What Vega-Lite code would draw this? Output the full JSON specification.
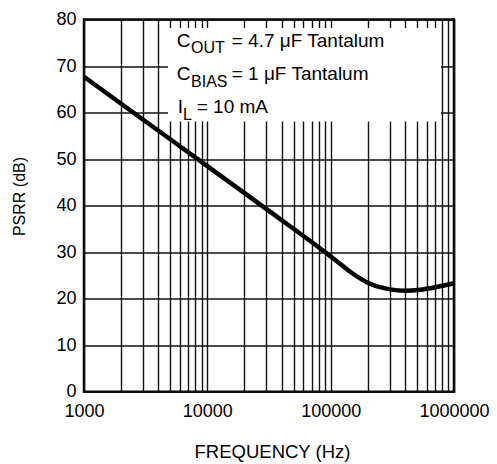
{
  "$schema": "https://vega.github.io/schema/vega-lite/v6.json",
  "width": 370,
  "height": 372.2,
  "autosize": "none",
  "padding": {"left": 84, "top": 19.5, "right": 43, "bottom": 72.3},
  "background": "white",
  "config": {
    "view": {"stroke": "black", "strokeWidth": 2.5},
    "font": "Liberation Sans",
    "axis": {
      "domain": false,
      "ticks": false,
      "gridColor": "#111111",
      "gridOpacity": 1,
      "gridWidth": 1.4,
      "labelColor": "black",
      "titleColor": "black",
      "labelFont": "Liberation Sans",
      "titleFont": "Liberation Sans",
      "titleFontWeight": "normal"
    }
  },
  "datasets": {
    "curve": [
      {"f": 1000, "psrr": 67.7},
      {"f": 3000, "psrr": 58.5},
      {"f": 10000, "psrr": 48.5},
      {"f": 30000, "psrr": 39.3},
      {"f": 90000, "psrr": 30.0},
      {"f": 119000, "psrr": 27.5},
      {"f": 152700, "psrr": 25.3},
      {"f": 208000, "psrr": 23.2},
      {"f": 303000, "psrr": 22.0},
      {"f": 400000, "psrr": 21.7},
      {"f": 530000, "psrr": 21.9},
      {"f": 724000, "psrr": 22.5},
      {"f": 1000000, "psrr": 23.3}
    ],
    "box": [
      {"f1": 4797, "f2": 784500, "v1": 58.08, "v2": 78.17}
    ],
    "mainText": [
      {"f": 5646, "v": 74.15, "t": "C"},
      {"f": 15760, "v": 74.15, "t": "= 4.7 μF Tantalum"},
      {"f": 5646, "v": 67.0, "t": "C"},
      {"f": 15760, "v": 67.0, "t": "= 1 μF Tantalum"},
      {"f": 5754, "v": 59.84, "t": "I"},
      {"f": 8200, "v": 59.84, "t": "= 10 mA"}
    ],
    "subText": [
      {"f": 7373, "v": 72.73, "t": "OUT"},
      {"f": 7373, "v": 65.56, "t": "BIAS"},
      {"f": 6349, "v": 58.40, "t": "L"}
    ]
  },
  "layer": [
    {
      "data": {"name": "curve"},
      "mark": {"type": "line", "color": "black", "strokeWidth": 4.5, "interpolate": "monotone"},
      "encoding": {
        "x": {
          "field": "f", "type": "quantitative",
          "scale": {"type": "log", "domain": [1000, 1000000], "nice": false},
          "axis": {
            "title": "FREQUENCY (Hz)",
            "values": [1000, 2000, 3000, 4000, 5000, 6000, 7000, 8000, 9000, 10000, 20000, 30000, 40000, 50000, 60000, 70000, 80000, 90000, 100000, 200000, 300000, 400000, 500000, 600000, 700000, 800000, 900000, 1000000],
            "labelExpr": "indexof([1000,10000,100000,1000000], datum.value) >= 0 ? format(datum.value, 'd') : ''",
            "labelFontSize": 18,
            "labelPadding": 11,
            "labelFlush": false,
            "labelOverlap": false,
            "titleFontSize": 18.5,
            "titleX": 188,
            "titleY": 59.5,
            "titleBaseline": "middle",
            "titleAnchor": "middle"
          }
        },
        "y": {
          "field": "psrr", "type": "quantitative",
          "scale": {"domain": [0, 80], "nice": false},
          "axis": {
            "title": "PSRR (dB)",
            "values": [0, 10, 20, 30, 40, 50, 60, 70, 80],
            "labelFontSize": 18,
            "labelPadding": 8,
            "labelFlush": false,
            "labelOverlap": false,
            "titleFontSize": 16,
            "titleAngle": -90,
            "titleX": -65,
            "titleY": 176.5,
            "titleBaseline": "middle",
            "titleAlign": "center"
          }
        }
      }
    },
    {
      "data": {"name": "box"},
      "mark": {"type": "rect", "fill": "white", "stroke": null},
      "encoding": {
        "x": {"field": "f1", "type": "quantitative"},
        "x2": {"field": "f2"},
        "y": {"field": "v1", "type": "quantitative"},
        "y2": {"field": "v2"}
      }
    },
    {
      "data": {"name": "mainText"},
      "mark": {"type": "text", "align": "left", "baseline": "alphabetic", "fontSize": 19, "color": "black", "font": "Liberation Sans"},
      "encoding": {
        "x": {"field": "f", "type": "quantitative"},
        "y": {"field": "v", "type": "quantitative"},
        "text": {"field": "t"}
      }
    },
    {
      "data": {"name": "subText"},
      "mark": {"type": "text", "align": "left", "baseline": "alphabetic", "fontSize": 16, "color": "black", "font": "Liberation Sans"},
      "encoding": {
        "x": {"field": "f", "type": "quantitative"},
        "y": {"field": "v", "type": "quantitative"},
        "text": {"field": "t"}
      }
    }
  ]
}
